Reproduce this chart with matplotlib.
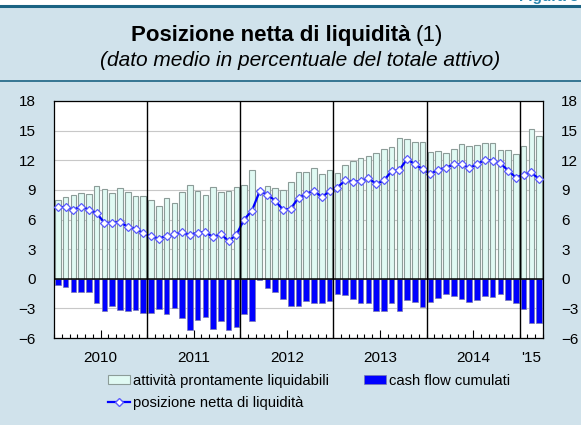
import numpy as np
import matplotlib
matplotlib.use("Agg")
import matplotlib.pyplot as plt
from matplotlib.lines import Line2D
from matplotlib.patches import Patch

plt.rcParams['font.family'] = ['Liberation Sans', 'DejaVu Sans']

# dati mensili gen 2010 - mar 2015
attivita = [8.02, 8.26, 8.49, 8.70, 8.63, 9.41, 9.10, 8.70, 9.20, 8.80, 8.36, 8.36,
            8.02, 7.38, 8.19, 7.68, 8.80, 9.50, 8.93, 8.49, 9.27, 8.80, 8.93, 9.30,
            9.50, 11.06, 9.05, 9.40, 9.20, 9.00, 9.78, 10.80, 10.80, 11.20, 10.60, 11.00,
            10.70, 11.50, 11.90, 12.20, 12.45, 12.75, 13.15, 13.36, 14.24, 14.14, 13.86, 13.86,
            12.88, 12.95, 12.75, 13.15, 13.60, 13.46, 13.56, 13.76, 13.76, 13.05, 13.05, 12.60,
            13.46, 15.18, 14.50]
cash_flow = [-0.61, -0.85, -1.30, -1.30, -1.30, -2.50, -3.30, -2.80, -3.20, -3.30, -3.14, -3.50,
             -3.50, -3.10, -3.60, -3.00, -4.00, -5.15, -4.16, -3.90, -5.05, -4.23, -5.20, -4.90,
             -3.58, -4.23, -0.17, -0.96, -1.37, -2.08, -2.80, -2.73, -2.29, -2.42, -2.46, -2.29,
             -1.57, -1.67, -2.10, -2.49, -2.42, -3.24, -3.30, -2.50, -3.24, -2.15, -2.39, -2.83,
             -2.39, -1.95, -1.57, -1.70, -2.08, -2.32, -2.15, -1.77, -1.80, -1.50, -2.15, -2.42,
             -3.10, -4.44, -4.44]
posizione = [7.24, 7.28, 7.00, 7.30, 7.00, 6.64, 5.66, 5.69, 5.76, 5.25, 5.08, 4.60,
             4.30, 4.07, 4.34, 4.50, 4.70, 4.44, 4.68, 4.74, 4.20, 4.54, 3.80, 4.47,
             6.00, 6.90, 8.86, 8.50, 7.90, 7.00, 7.10, 8.20, 8.60, 8.93, 8.26, 8.86,
             9.24, 9.95, 9.84, 9.88, 10.18, 9.60, 9.95, 10.90, 11.03, 12.14, 11.57, 11.10,
             10.60, 11.06, 11.23, 11.60, 11.57, 11.23, 11.57, 12.07, 11.97, 11.70, 10.96, 10.25,
             10.55, 10.76, 10.08]
anni = ['2010', '2011', '2012', '2013', '2014', "'15"]
mesi_per_anno = [12, 12, 12, 12, 12, 3]

bg = '#d0e2eb'
x = np.arange(len(attivita))

fig = plt.figure(figsize=(5.81, 4.25), dpi=100, facecolor=bg)
ax = fig.add_axes([54/581, 1-338/425, 489/581, 237/425])
ax.set_facecolor('white')

ax.bar(x, attivita, width=0.72, color='#e0faf3', edgecolor='#8c9c98', linewidth=0.8, zorder=2)
ax.bar(x, cash_flow, width=0.72, color='#0000ff', edgecolor='#7a7ab0', linewidth=0.5, zorder=2)
ax.plot(x, posizione, color='#0000ff', lw=1.6, marker='D', ms=4.5, mfc='white',
        mec='#5a5aff', mew=0.9, zorder=4)

ax.axhline(0, color='black', lw=1.1, zorder=3)
# separatori anni
confini = np.cumsum(mesi_per_anno)[:-1] - 0.5
for c in confini:
    ax.axvline(c, color='black', lw=1.0, zorder=5)

ax.set_xlim(-0.5, len(x) - 0.5)
ax.set_ylim(-6, 18)
ax.set_yticks(np.arange(-6, 19, 3))
ax.yaxis.grid(True, color='#c8c8c8', lw=0.8)
ax.set_axisbelow(True)
ax.tick_params(axis='y', length=0, labelsize=11, labelleft=True, labelright=True, pad=13)

inizio = np.concatenate([[0], np.cumsum(mesi_per_anno)[:-1]])
centri = inizio + np.array(mesi_per_anno) / 2 - 0.5
ax.set_xticks(centri)
ax.set_xticklabels(anni, fontsize=11)
ax.set_xticks(np.arange(-0.5, len(x)), minor=True)
ax.tick_params(axis='x', which='major', direction='in', length=5.5, width=0.8, pad=9)
ax.tick_params(axis='x', which='minor', direction='in', length=3, width=0.8)
ax.xaxis.get_major_ticks()[-1].tick1line.set_visible(False)

for s in ax.spines.values():
    s.set_linewidth(0.9)

# intestazione
fig.add_artist(Line2D([0, 1], [1-6/425, 1-6/425], color='#1b6383', lw=2.2))
fig.add_artist(plt.Rectangle((0, 1-5/425), 1, 5/425, color='white', zorder=0))
fig.add_artist(Line2D([0, 1], [1-81/425, 1-81/425], color='#1b6383', lw=1.2))
fig.text(0.995, 1+3/425, 'Figura 3', ha='right', va='center', color='#2a86b0',
         fontsize=11, fontweight='bold')
fig.text(411/581, 1-35/425, 'Posizione netta di liquidità', ha='right', va='center',
         fontsize=16, fontweight='bold')
fig.text(416/581, 1-35/425, '(1)', ha='left', va='center', fontsize=16)
fig.text(300/581, 1-60/425, '(dato medio in percentuale del totale attivo)', ha='center',
         va='center', fontsize=15, style='italic')

handles = [Patch(facecolor='#e0faf3', edgecolor='#8c9c98', lw=0.8),
           Line2D([], [], color='#0000ff', lw=1.6, marker='D', ms=4, mfc='white', mec='#5a5aff'),
           Patch(facecolor='#0000ff', edgecolor='#7a7ab0', lw=0.5)]
labels = ['attività prontamente liquidabili', 'posizione netta di liquidità', 'cash flow cumulati']
fig.legend(handles, labels, ncol=2, loc='upper left', bbox_to_anchor=(102/581, 1-368/425),
           frameon=False, fontsize=10.6, handlelength=1.5, handleheight=0.6,
           handletextpad=0.2, columnspacing=2.4, labelspacing=0.55, borderaxespad=0)

fig.savefig('out.png', dpi=100, facecolor=bg)
